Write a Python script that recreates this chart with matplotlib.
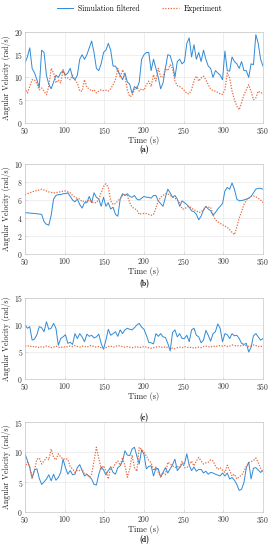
import matplotlib
matplotlib.use('Agg')
import matplotlib.pyplot as plt
import numpy as np

plt.rcParams['font.family'] = ['cmr10', 'DejaVu Serif']
plt.rcParams['mathtext.fontset'] = 'cm'
plt.rcParams['axes.formatter.use_mathtext'] = True
plt.rcParams['axes.unicode_minus'] = False

# sample times (s), every 3 s from 50 to 350
time = np.arange(50, 351, 3)

# (a)
sim_a = [13.2, 14.5, 16.5, 12, 11, 9.5, 7.8, 16, 15.5, 10.5,
         8.5, 7.5, 9, 10.5, 10, 11, 11.5, 10.5, 11, 12,
         10, 9.5, 10.5, 14, 15, 14, 15, 16.5, 18, 15.5,
         12, 11.5, 13, 15.5, 16, 17.5, 16, 12.5, 12.5, 11.5,
         10.5, 9.5, 11, 9, 8.5, 6.5, 8, 7.5, 9, 14,
         15, 15.5, 15.5, 11.5, 14, 12, 10, 7.5, 8.8, 12,
         15, 14.8, 13, 10, 13.5, 14, 13, 13.5, 17.5, 18.7,
         14.5, 17.2, 14, 15.5, 13.5, 16, 14, 12.5, 12, 10,
         11.5, 11, 10.5, 9.5, 15.8, 11.5, 11.4, 14.5, 13.5, 13,
         12, 13.5, 11.5, 11.5, 10, 13, 12.8, 19.4, 17.5, 14,
         12.5]
exp_a = [7.7, 6.6, 8, 9.5, 9.5, 8.6, 7.3, 7.7, 7, 6.2,
         8, 12, 11, 8.8, 9.5, 8.8, 11.7, 9.9, 9.9, 9.5,
         10.5, 9.5, 8.8, 7, 7, 9.5, 7.8, 7.5, 7, 7.3,
         6.6, 7, 7.3, 7.1, 7.2, 7, 7.5, 8.4, 9.5, 12,
         10, 11.7, 10.3, 7.3, 5.8, 6, 7.3, 8, 7, 7.5,
         7.2, 8.4, 9.2, 8, 10.6, 9.2, 12, 10.2, 10, 12,
         11.5, 12.8, 12, 9.2, 8.2, 8, 7.6, 7.1, 6.5, 6.4,
         7.3, 9.3, 10.3, 9.2, 9.9, 10.3, 9.5, 8.4, 7.5, 7.1,
         7, 6.7, 6.4, 6.3, 7.3, 11, 9.9, 7, 5.1, 3.7,
         2.9, 4.5, 6.2, 7.3, 8.4, 7, 5.1, 5.5, 7, 6.6,
         6.6]

# (b)
sim_b = [4.6, 4.57, 4.55, 4.52, 4.5, 4.47, 4.44, 4.4, 3.6, 3.3,
         3.2, 4.3, 6.1, 6.5, 6.6, 6.6, 6.7, 6.7, 6.8, 6.4,
         6, 5.8, 6.1, 5.5, 5.1, 5.7, 5.7, 6.4, 5.7, 6.8,
         6.3, 6.1, 5.3, 6.3, 5.3, 5.7, 5, 5.2, 4.4, 4.2,
         6.1, 6.7, 6.5, 6.7, 6.4, 6.3, 6.5, 6.1, 6, 6.2,
         6.4, 6.3, 6.3, 6.2, 6.5, 6.5, 5.9, 5.6, 5.3, 6.3,
         7.2, 6.8, 6.3, 6.5, 6.1, 5.3, 5.9, 5.7, 5.5, 5.2,
         4.8, 4.7, 4.4, 3.8, 4.2, 4.9, 5.3, 5.0, 4.8, 4.3,
         4.6, 5, 5.3, 5.6, 7, 7.4, 7.2, 7.9, 7.2, 6.1,
         5.9, 5.95, 6, 6.1, 6.2, 6.4, 6.8, 7.2, 7.3, 7.3,
         7.2]
exp_b = [6.6, 6.7, 6.8, 6.9, 7, 7.05, 7.1, 7.2, 7.1, 7,
         6.9, 6.85, 6.8, 6.8, 6.9, 6.9, 7, 7, 6.9, 6.8,
         6.5, 6.3, 6.2, 6.1, 5.8, 5.9, 5.8, 6, 5.8, 5.7,
         5.7, 6.1, 6.8, 7.5, 7.8, 7.4, 5.9, 5.5, 5.6, 5.9,
         6.2, 6.5, 6.6, 6.5, 5.7, 5.2, 5.05, 4.9, 4.4, 4.5,
         4.5, 4.5, 4.4, 4.3, 4.4, 5.1, 5.9, 6.3, 6.5, 6.7,
         6.7, 6.5, 6.35, 6.2, 6.0, 5.7, 5.0, 5.0, 5.2, 5.3,
         5.1, 4.9, 4.8, 4.6, 4.7, 4.9, 5.2, 5.2, 5.2, 4.4,
         3.8, 3.6, 3.4, 3.25, 3.1, 2.95, 2.7, 2.4, 2.15, 3.0,
         4, 4.7, 5.5, 6, 6.2, 6.4, 6.45, 6.35, 6.2, 6,
         5.7]

# (c)
sim_c = [10, 9.4, 9.7, 7.2, 7.4, 8.2, 9.7, 9.5, 8.75, 10.6,
         9.2, 9.4, 10.3, 9.4, 6.25, 7.5, 7.8, 8.2, 6.6, 6.8,
         6.4, 8.4, 7.5, 8.4, 7.8, 6.9, 8.3, 7.9, 8.1, 7.6,
         7.8, 8.3, 6.6, 5.5, 7.2, 9.2, 8.1, 8.4, 8.75, 7.9,
         9.1, 8.4, 9.1, 9.4, 9.2, 9.1, 9.5, 10, 10.3, 9.6,
         9.2, 8.1, 6.8, 6.7, 6.5, 8.4, 7.9, 8.4, 7.8, 7.7,
         6.6, 5.2, 8.6, 9.1, 7.8, 8.4, 7.5, 7.5, 8.1, 6.9,
         9.1, 9.4, 8.1, 7.8, 6.7, 7.2, 9, 8.1, 7, 8.4,
         8.75, 10.2, 9.4, 6.9, 8.4, 8.2, 7.5, 8.4, 8, 8.1,
         7.5, 6.6, 6.4, 6.6, 5, 5.9, 8, 8.4, 7.8, 7.2,
         7.5]
exp_c = [6.1, 6.2, 6.0, 6.1, 5.9, 6.0, 5.8, 6.0, 5.9, 6.1,
         6.0, 5.8, 5.9, 6.1, 5.9, 5.8, 6.0, 5.9, 6.0, 6.1,
         6.0, 6.2, 6.0, 5.9, 6.1, 6.0, 5.9, 6.1, 6.2, 6.0,
         5.9, 6.0, 5.8, 5.7, 5.8, 6.0, 6.1, 5.9, 6.0, 6.2,
         6.1, 6.0, 5.9, 6.0, 5.9, 5.8, 5.9, 6.0, 5.8, 5.9,
         6.0, 5.9, 5.8, 5.7, 5.8, 5.9, 6.0, 5.9, 5.8, 6.0,
         5.8, 5.6, 5.7, 5.6, 5.8, 5.9, 5.8, 6.0, 5.9, 5.8,
         5.9, 5.7, 5.8, 5.9, 5.8, 6.0, 6.1, 6.0, 5.9, 6.1,
         6.0, 6.1, 6.2, 6.1, 6.2, 6.0, 6.1, 6.3, 6.2, 6.1,
         6.2, 6.1, 6.3, 6.2, 6.0, 6.1, 6.3, 6.2, 6.0, 6.1,
         5.9]

# (d)
sim_d = [9.7, 8.6, 7.4, 5.7, 7, 7.2, 5.6, 4.6, 5.0, 5.5,
         6.2, 5.2, 6.3, 5.3, 5.75, 6.6, 8.8, 7.4, 6.3, 6.9,
         6.2, 6.3, 7.4, 7.9, 6.9, 6, 6.3, 5.9, 5.5, 4.6,
         4.5, 6.3, 7.5, 7.0, 6.2, 6.9, 7.5, 6.6, 6.3, 7.4,
         7.7, 8.5, 10.2, 9.5, 9.4, 10.5, 10.8, 9.3, 8, 10.4,
         9.6, 7.2, 7.6, 7.7, 6, 7.3, 7.2, 5.8, 6.6, 7.4,
         6.5, 7.2, 7.9, 8.8, 6.9, 7.4, 8, 8, 9.7, 7.8,
         6.9, 7.5, 6.8, 7.1, 7.1, 6.5, 6.8, 6.3, 6.6, 6.5,
         6.3, 6.15, 6, 6.5, 6, 6.5, 5.5, 5.75, 5.3, 4.6,
         3.6, 3.8, 4.9, 7.4, 8.3, 5.5, 7.3, 7.4, 7.0, 6.6,
         6.9]
exp_d = [7.4, 8.3, 7.5, 5.5, 7, 8.8, 9, 8, 8.5, 9.1,
         8.7, 10.5, 9.1, 8.7, 9.7, 9.2, 8.8, 8.9, 8.8, 7.5,
         7.2, 6.6, 7, 6.9, 7.2, 6.3, 6.3, 5.8, 6.3, 8.5,
         10.8, 9, 7.2, 7.7, 6.8, 5.5, 7.5, 7.4, 8.1, 8.5,
         7.8, 9.1, 7.7, 5.8, 7.2, 9.5, 7.4, 6.8, 10.8, 10.4,
         10, 9.3, 8.6, 8.2, 6.9, 7.5, 6.6, 5.9, 6.6, 6.2,
         8.3, 8.0, 7.7, 7.4, 7.6, 7.4, 8.5, 7.4, 7.4, 7.8,
         8.5, 7.7, 8.5, 9.1, 8.5, 8.0, 8.2, 8.3, 8.7, 8.5,
         7.7, 7.1, 7.4, 7.0, 6.6, 7.8, 6.9, 6.0, 6.3, 5.5,
         5.9, 6.1, 6.8, 7.6, 8.2, 8.4, 8.6, 9.0, 8.3, 7.3,
         6.6]

panels = [
    ('(a)', sim_a, exp_a, 20, [0, 5, 10, 15, 20], 0.7764, 0.1655, 0.728),
    ('(b)', sim_b, exp_b, 10, [0, 2, 4, 6, 8, 10], 0.5382, 0.1636, 0.484),
    ('(c)', sim_c, exp_c, 15, [0, 5, 10, 15], 0.3109, 0.1473, 0.241),
    ('(d)', sim_d, exp_d, 15, [0, 5, 10, 15], 0.0691, 0.1636, 0.019),
]

blue = '#2f8ad6'
orange = '#e8683c'

fig = plt.figure(figsize=(2.79, 5.5), dpi=100)

for lab, sim, exp, ymax, yt, bot, h, laby in panels:
    ax = fig.add_axes([0.0896, bot, 0.853, h])
    l1, = ax.plot(time, sim, color=blue, lw=0.7, label='Simulation filtered')
    l2, = ax.plot(time, exp, color=orange, lw=0.9, ls=(0, (1, 1.2)), label='Experiment')
    ax.set_xlim(50, 350)
    ax.set_ylim(0, ymax)
    ax.set_xticks([50, 100, 150, 200, 250, 300, 350])
    ax.set_yticks(yt)
    ax.grid(True, color='#e8e8e8', lw=0.5)
    ax.set_axisbelow(True)
    for s in ax.spines.values():
        s.set_color('#c8c8c8')
        s.set_linewidth(0.5)
    ax.tick_params(labelsize=5.5, length=1.5, width=0.4, color='#c8c8c8',
                   labelcolor='#333333', direction='in')
    ax.tick_params(axis='x', pad=1.5)
    ax.tick_params(axis='y', pad=1.5)
    ax.set_xlabel('Time (s)', fontsize=6, labelpad=0, color='#222222')
    ax.set_ylabel('Angular Velocity (rad/s)', fontsize=5.6, labelpad=2, color='#222222')
    fig.text(0.516, laby, lab, ha='center', va='center', fontsize=5.5,
             family=['cmb10', 'DejaVu Serif'])

fig.legend([l1, l2], ['Simulation filtered', 'Experiment'], loc='upper center',
           bbox_to_anchor=(0.5, 1.005), ncol=2, frameon=False, fontsize=5.5,
           handlelength=2.2, columnspacing=3, handletextpad=0.6)

fig.savefig('out.png', dpi=100)
